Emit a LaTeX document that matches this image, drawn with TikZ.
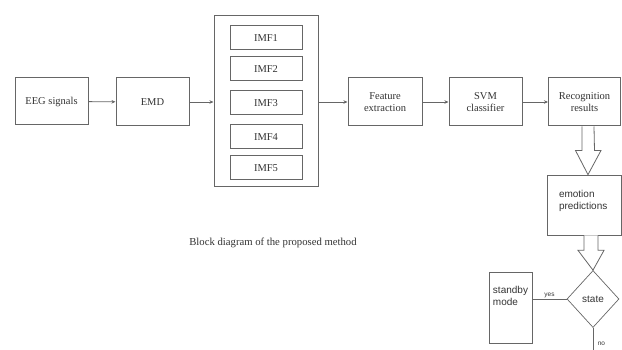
\documentclass[tikz,border=0pt]{standalone}
\usepackage{fontspec}
\setmainfont{Liberation Serif}
\newfontfamily\arialfont{Liberation Sans}
\usetikzlibrary{shapes.geometric,arrows.meta,calc}
\definecolor{linegray}{HTML}{666666}
\definecolor{textgray}{HTML}{333333}
\tikzset{
  blk/.style={draw=linegray, line width=1pt, text=textgray, font=\fontsize{10.5}{12}\selectfont, align=center, inner sep=1pt},
  sblk/.style={draw=linegray, line width=0.7pt, text=textgray, font=\arialfont\fontsize{10}{12}\selectfont, inner sep=1pt},
  conn/.style={draw=linegray, line width=0.9pt, -{Stealth[length=4pt,width=3.5pt]}},
  plain/.style={draw=linegray, line width=0.7pt},
  hollow/.style={draw=linegray, line width=0.8pt, fill=white},
  lbl/.style={text=textgray, font=\arialfont\fontsize{6.5}{7}\selectfont, inner sep=0.5pt}
}
\begin{document}
\begin{tikzpicture}[x=1pt,y=-1pt]
\useasboundingbox (0,0) rectangle (622,350);
% top row
\node[blk, minimum width=73pt, minimum height=47pt] (eeg) at (51.5,101.5) {EEG signals};
\node[blk, minimum width=73pt, minimum height=48pt] (emd) at (152.5,102) {EMD};
\node[blk, minimum width=104pt, minimum height=171pt] (imfs) at (266,101.5) {};
\node[blk, minimum width=72pt, minimum height=24pt] (imf1) at (266,38) {IMF1};
\node[blk, minimum width=72pt, minimum height=24pt] (imf2) at (266,69) {IMF2};
\node[blk, minimum width=72pt, minimum height=24pt] (imf3) at (266,103) {IMF3};
\node[blk, minimum width=72pt, minimum height=24pt] (imf4) at (266,137) {IMF4};
\node[blk, minimum width=72pt, minimum height=24pt] (imf5) at (266,168) {IMF5};
\node[blk, minimum width=74pt, minimum height=48pt] (feat) at (385,102) {Feature\\extraction};
\node[blk, minimum width=73pt, minimum height=48pt] (svm) at (485.5,102) {SVM\\classifier};
\node[blk, minimum width=72pt, minimum height=48pt] (rec) at (584.5,102) {Recognition\\results};
\draw[conn] (eeg) -- (emd);
\draw[conn] (emd) -- (imfs.west |- emd);
\draw[conn] (imfs.east |- feat) -- (feat);
\draw[conn] (feat) -- (svm);
\draw[conn] (svm) -- (rec);
% caption
\node[text=textgray, font=\fontsize{10.7}{13}\selectfont, inner sep=0pt] (cap) at (273,243) {Block diagram of the proposed method};
% lower part
\node[sblk, minimum width=74pt, minimum height=60pt] (emo) at (584,205) {};
\node[text=textgray, font=\arialfont\fontsize{10}{12}\selectfont, text width=54pt, align=left, inner sep=0pt] (emotxt) at (586,201) {emotion\\predictions};
\node[sblk, shape=diamond, minimum width=52pt, minimum height=57pt, inner sep=0pt] (state) at (593,299) {state};
\node[sblk, minimum width=43pt, minimum height=71pt, align=left, inner sep=1.5pt] (stby) at (510.5,307.5) {standby\\mode\\[12pt]};
\coordinate (bot) at (593,352);
% hollow arrows
\draw[hollow] ($(rec.south)+(-2.5,0)$) -- ++(0,24) -- ++(-6.5,0) -- (emo.north -| 588,0) -- ($(rec.south)+(16.5,24)$) -- ++(-6.5,0) -- ($(rec.south)+(9.5,0)$);
\draw[hollow] ($(emo.south)+(0,0)$) -- ++(0,15) -- ++(-6,0) -- (state.north) -- ($(emo.south)+(20,15)$) -- ++(-6,0) -- ($(emo.south)+(14,0)$);
% decision lines
\draw[plain] (stby.east |- state) -- node[lbl, above, pos=0.5] (yes) {yes} (state.west);
\draw[plain] (state.south) -- node[lbl, right, pos=0.65, xshift=4pt] (no) {no} (bot);
\end{tikzpicture}
\end{document}
